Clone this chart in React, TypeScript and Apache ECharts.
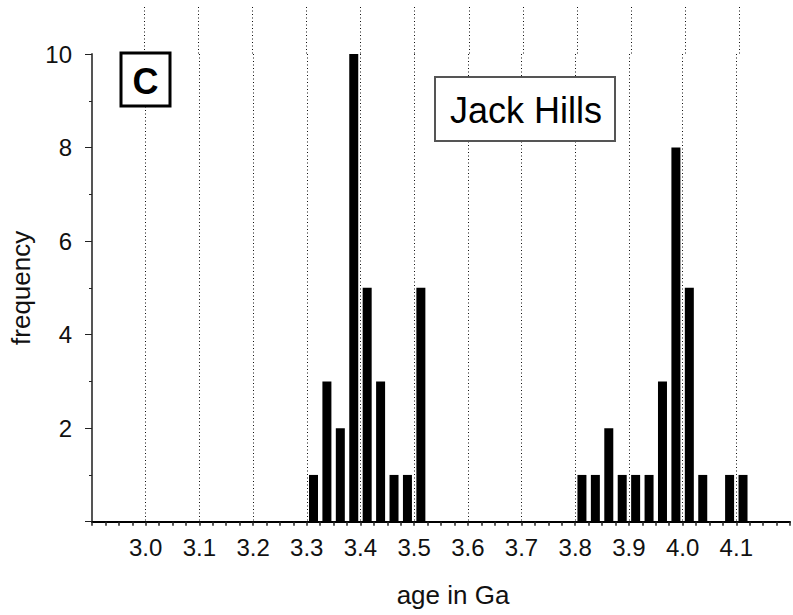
import React, { useEffect, useRef } from "react";
import * as echarts from "echarts";

// Histogram bins (bin width 0.025 Ga), centre of each bin and its frequency
const ages = [
  3.3125, 3.3375, 3.3625, 3.3875, 3.4125, 3.4375, 3.4625, 3.4875, 3.5125,
  3.8125, 3.8375, 3.8625, 3.8875, 3.9125, 3.9375, 3.9625, 3.9875, 4.0125,
  4.0375, 4.0875, 4.1125,
];
const counts = [1, 3, 2, 10, 5, 3, 1, 1, 5, 1, 1, 2, 1, 1, 1, 3, 8, 5, 1, 1, 1];

const xTickLabels = ["3.0", "3.1", "3.2", "3.3", "3.4", "3.5", "3.6", "3.7", "3.8", "3.9", "4.0", "4.1"];
const yTickLabels = ["2", "4", "6", "8", "10"];

const xName = "age in Ga";
const yName = "frequency";
const panelLabel = "C";
const siteLabel = "Jack Hills";

const FONT = "Liberation Sans, Arial, Helvetica, sans-serif";

export default function App() {
  const ref = useRef<HTMLDivElement>(null);

  useEffect(() => {
    if (!ref.current) return;
    const chart = echarts.init(ref.current, null, { renderer: "svg" });

    const dotted = { color: "#111", width: 1, type: [1, 2.5] as number[] };

    const option: any = {
      animation: false,
      backgroundColor: "#fff",
      grid: [
        { left: 90.5, right: -12, top: 54, bottom: 93.3, containLabel: false },
        { left: 90.5, right: -12, top: 7, height: 47, containLabel: false },
      ],
      xAxis: [
        {
          type: "value",
          gridIndex: 0,
          min: 2.9,
          max: 4.2,
          interval: 0.1,
          axisLine: { show: true, onZero: false, lineStyle: { color: "#000", width: 2 } },
          axisTick: { show: true, inside: false, length: 4, lineStyle: { color: "#222", width: 1.5 } },
          minorTick: { show: true, splitNumber: 4, length: 4, lineStyle: { color: "#222", width: 1.5 } },
          axisLabel: {
            show: true,
            margin: 14,
            fontSize: 24,
            fontFamily: FONT,
            color: "#111",
            formatter: (v: number) => {
              const s = v.toFixed(1);
              return xTickLabels.includes(s) ? s : "";
            },
          },
          splitLine: { show: true, showMinLine: false, showMaxLine: false, lineStyle: dotted },
          name: xName,
          nameLocation: "middle",
          nameGap: 60,
          nameTextStyle: { fontSize: 26, fontFamily: FONT, color: "#111", padding: [0, 0, 0, 24] },
        },
        {
          type: "value",
          gridIndex: 1,
          min: 2.9,
          max: 4.2,
          interval: 0.1,
          axisLine: { show: false },
          axisTick: { show: false },
          axisLabel: { show: false },
          splitLine: { show: true, showMinLine: false, showMaxLine: false, lineStyle: dotted },
        },
      ],
      yAxis: [
        {
          type: "value",
          gridIndex: 0,
          min: 0,
          max: 10,
          interval: 2,
          axisLine: { show: true, lineStyle: { color: "#555", width: 2 } },
          axisTick: { show: true, inside: false, length: 7, lineStyle: { color: "#222", width: 1 } },
          minorTick: { show: true, splitNumber: 2, length: 3, lineStyle: { color: "#222", width: 1 } },
          axisLabel: {
            margin: 20,
            fontSize: 24,
            fontFamily: FONT,
            color: "#111",
            formatter: (v: number) => {
              const s = String(Math.round(v));
              return yTickLabels.includes(s) ? s : "";
            },
          },
          splitLine: { show: false },
          name: yName,
          nameLocation: "middle",
          nameRotate: 90,
          nameGap: 58,
          nameTextStyle: { fontSize: 26, fontFamily: FONT, color: "#111" },
        },
        {
          type: "value",
          gridIndex: 1,
          min: 0,
          max: 1,
          show: false,
        },
      ],
      series: [
        {
          type: "bar",
          xAxisIndex: 0,
          yAxisIndex: 0,
          barWidth: 9,
          itemStyle: { color: "#000" },
          data: ages.map((a, i) => [a, counts[i]]),
        },
      ],
      graphic: [
        {
          type: "group",
          z: 100,
          children: [
            {
              type: "rect",
              shape: { x: 121, y: 53, width: 49, height: 53 },
              style: { fill: "#fff", stroke: "#000", lineWidth: 3 },
              z: 100,
            },
            {
              type: "text",
              x: 145.5,
              y: 81,
              z: 101,
              style: {
                text: panelLabel,
                fontSize: 36,
                fontWeight: "bold",
                fontFamily: FONT,
                fill: "#000",
                align: "center",
                verticalAlign: "middle",
              },
            },
            {
              type: "rect",
              shape: { x: 435, y: 77, width: 180, height: 64 },
              style: { fill: "#fff", stroke: "#555", lineWidth: 2 },
              z: 100,
            },
            {
              type: "text",
              x: 526,
              y: 110,
              z: 101,
              style: {
                text: siteLabel,
                fontSize: 36,
                fontFamily: FONT,
                fill: "#000",
                align: "center",
                verticalAlign: "middle",
              },
            },
          ],
        },
      ],
    };

    chart.setOption(option);
    return () => chart.dispose();
  }, []);

  return (
    <div
      ref={ref}
      style={{ position: "fixed", left: 0, top: 0, width: 793, height: 615, background: "#fff" }}
    />
  );
}
